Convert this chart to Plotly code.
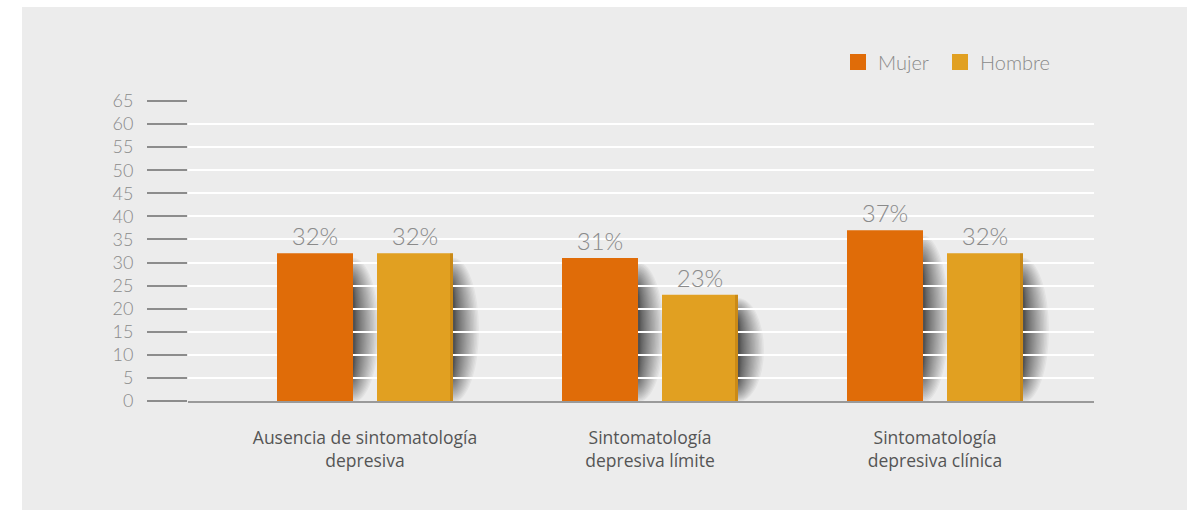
import plotly.graph_objects as go

# Data
categories = [
    "Ausencia de sintomatología<br>depresiva",
    "Sintomatología<br>depresiva límite",
    "Sintomatología<br>depresiva clínica",
]
mujer = [32, 31, 37]
hombre = [32, 23, 32]
series_names = ["Mujer", "Hombre"]
y_ticks = list(range(0, 70, 5))

# Styling
C_MUJER = "#e06c08"
C_HOMBRE = "#e1a021"
PANEL = "#ececec"
GREY_TXT = "#8a8a8a"
FONT = "Lato"

# Geometry in category units (one category step = 285 px)
STEP_PX = 285.0
BAR_W = 76 / STEP_PX
BAR_OFF = 50 / STEP_PX

PL, PR, PT, PB = 188, 1094, 101, 401
def px_x(p):
    return (p - PL) / (PR - PL)
def px_y(p):
    return (PB - p) / (PB - PT)

fig = go.Figure()
idx = list(range(len(categories)))

for name, vals, col, off, leg in [
    (series_names[0], mujer, C_MUJER, -BAR_OFF, "legend"),
    (series_names[1], hombre, C_HOMBRE, BAR_OFF, "legend2"),
]:
    fig.add_trace(go.Bar(
        x=idx, y=vals, name=name, showlegend=False,
        width=BAR_W, offset=off - BAR_W / 2,
        marker=dict(color=col, line=dict(width=0)),
        text=[f"{v}%" for v in vals], textposition="outside",
        textfont=dict(family=FONT, size=24, color=GREY_TXT, weight=300),
        cliponaxis=False,
    ))
    # legend entries with larger square swatches
    fig.add_trace(go.Scatter(
        x=[None], y=[None], mode="markers", name=name, legend=leg,
        marker=dict(symbol="square", size=16, color=col),
    ))

# Soft shadows to the right of every bar: stacked translucent half-ellipses
shapes = []
N = 24
for vals, off in [(mujer, -BAR_OFF), (hombre, BAR_OFF)]:
    for i, v in zip(idx, vals):
        right = i + off + BAR_W / 2
        for k in range(N):
            f = k / (N - 1)
            hw = (2 + 24 * (1 - f) ** 1.5) / STEP_PX
            hh = v * (0.49 - 0.22 * f)
            cy = v * 0.48
            shapes.append(dict(
                type="circle", xref="x", yref="y", layer="below",
                x0=right - hw, x1=right + hw, y0=cy - hh, y1=cy + hh,
                fillcolor="black", opacity=0.04, line=dict(width=0),
            ))
# darker edge on the lighter bars
for i, v in zip(idx, hombre):
    right = i + BAR_OFF + BAR_W / 2
    shapes.append(dict(
        type="rect", xref="x", yref="y", layer="above",
        x0=right - 3 / STEP_PX, x1=right, y0=0, y1=v,
        fillcolor="rgba(150,90,0,0.30)", line=dict(width=0),
    ))

# grey panel behind the chart
shapes.insert(0, dict(
    type="rect", xref="paper", yref="paper", layer="below",
    x0=px_x(22), x1=px_x(1187), y0=px_y(510), y1=px_y(7),
    fillcolor=PANEL, line=dict(width=0),
))

legend_style = dict(
    orientation="h", xanchor="left", yanchor="middle", y=px_y(62),
    font=dict(family=FONT, size=20, color=GREY_TXT, weight=300),
    bgcolor="rgba(0,0,0,0)",
)

fig.update_layout(
    width=1198, height=510,
    margin=dict(l=PL, r=1198 - PR, t=PT, b=510 - PB),
    paper_bgcolor="white", plot_bgcolor="rgba(0,0,0,0)",
    shapes=shapes,
    font=dict(family=FONT, color=GREY_TXT),
    legend=dict(x=px_x(838), **legend_style),
    legend2=dict(x=px_x(940), **legend_style),
    xaxis=dict(
        range=[(PL - 365) / STEP_PX, (PR - 365) / STEP_PX],
        tickmode="array", tickvals=idx, ticktext=categories,
        showgrid=False, zeroline=False, ticks="",
        showline=True, linecolor="#9a9a9a", linewidth=2,
        tickfont=dict(family="Open Sans", size=17.5, color="#555555"),
        ticklabelstandoff=20,
    ),
    yaxis=dict(
        range=[0, 65], tickmode="array", tickvals=y_ticks,
        showgrid=True, gridcolor="white", gridwidth=2,
        zeroline=False, showline=False,
        ticks="outside", ticklen=40, tickwidth=1.5, tickcolor="#8c8c8c",
        tickfont=dict(family=FONT, size=18, color=GREY_TXT, weight=300),
        ticklabelstandoff=10,
    ),
)

fig.write_html("out.html")
